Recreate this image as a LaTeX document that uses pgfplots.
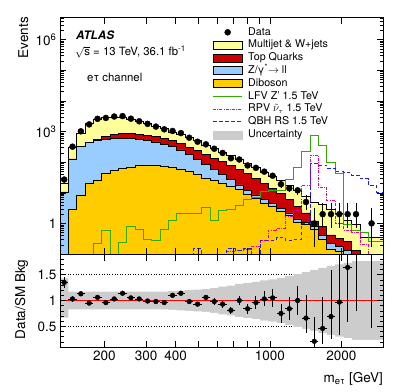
\documentclass[border=0pt]{standalone}
\usepackage{pgfplots}
\pgfplotsset{compat=1.18}
\usepackage{pgfplotstable}
\usepackage{fontspec}
\setmainfont{TeX Gyre Heros}

\definecolor{mjyellow}{RGB}{255,255,153}
\definecolor{topred}{RGB}{204,0,0}
\definecolor{zblue}{RGB}{153,204,255}
\definecolor{dborange}{RGB}{255,204,0}
\definecolor{lfvgreen}{RGB}{51,170,0}
\definecolor{qbhblue}{RGB}{30,30,255}
\definecolor{uncgray}{RGB}{204,204,204}

% background stack, cumulative, per bin (low edge); last row = upper edge
\pgfplotstableread{
edge     tot    top    zll    dib
130      20     10.6   10.4   0.01
140.97   310    128    125    2.9
152.87   900    330    320    8.3
165.77   1800   450    430    20
179.77   2450   560    500    26
194.94   2900   700    570    44
211.39   3000   800    600    52
229.23   2800   850    600    62
248.58   2500   860    590    70
269.56   2100   830    560    76
292.31   1800   770    520    80
316.98   1480   690    460    80
343.73   1230   600    390    75
372.74   950    500    320    68
404.2    780    410    250    60
438.31   640    310    180    50
475.3    500    240    125    40
515.42   360    175    85     30
558.92   280    135    58     25
606.09   215    103    40     20
657.24   165    78     27     16
712.71   122    58     18     12.5
772.86   93     42     12     9
838.09   68     30     8.5    6.5
908.83   48     20     6      4.6
985.54   34     14     4.4    3.5
1068.72  25     9.4    3.1    2.4
1158.92  17     6      2.2    1.8
1256.73  12     3.6    1.4    1.1
1362.8   7.6    2.2    1.1    0.9
1477.82  4.8    1.2    0.8    0.65
1602.55  4.3    0.8    0.4    0.3
1737.8   2.9    0.42   0.22   0.14
1884.47  2.06   0.32   0.18   0.12
2043.52  1.22   0.25   0.13   0.09
2216.0   0.9    0.13   0.07   0.05
2403.03  0.36   0.04   0.03   0.02
3000     0.36   0.04   0.03   0.02
}\bkg

% signals
\pgfplotstableread{
edge     lfv    rpv    qbh
130      0.001  0.001  0.001
140.97   0.001  0.001  0.001
152.87   0.001  0.001  0.001
165.77   0.001  0.001  0.001
179.77   0.22   0.001  0.001
194.94   0.59   0.001  0.001
211.39   0.001  0.001  0.001
229.23   0.24   0.001  0.001
248.58   0.8    0.001  0.001
269.56   0.64   0.001  0.001
292.31   0.29   0.001  0.001
316.98   0.28   0.001  0.001
343.73   0.62   0.001  0.001
372.74   1.25   0.001  0.001
404.2    2.1    0.001  0.001
438.31   2.1    0.001  0.001
475.3    2.1    0.001  0.15
515.42   3.3    0.001  0.05
558.92   1.25   0.001  0.05
606.09   2.7    0.05   0.05
657.24   2.8    0.12   0.15
712.71   3.8    0.13   0.13
772.86   6      0.14   0.15
838.09   7.3    0.18   0.05
908.83   11     0.28   0.28
985.54   12     0.6    0.28
1068.72  12     0.68   0.35
1158.92  27     1.7    0.28
1256.73  68     2.7    0.3
1362.8   220    17     1.0
1477.82  770    170    90
1602.55  360    15     80
1737.8   100    5.5    62
1884.47  42     1.0    48
2043.52  0.95   0.6    45
2216.0   0.6    0.5    37
2403.03  0.52   0.2    29
2605.9   0.25   0.1    17.6
2825.8   0.25   0.1    10.6
3064.4   0.25   0.1    10.6
}\sig

% data points: bin centre, events, errors, ratio to SM, errors, half bin width
\pgfplotstableread{
c       d     dp     dm     r     rp     rm     xe
135.4   27    5.2    5.2    1.35  0.1    0.1    5.4
146.8   320   17.9   17.9   1.03  0.058  0.058  5.9
159.2   1017  32     32     1.13  0.035  0.035  6.4
172.6   1710  41     41     0.95  0.023  0.023  6.9
187.2   2600  51     51     1.06  0.021  0.021  7.5
203.0   2780  53     53     0.96  0.018  0.018  8.1
220.1   3090  56     56     1.03  0.019  0.019  8.8
238.7   3190  56     56     1.14  0.02   0.02   9.5
258.9   2625  51     51     1.05  0.02   0.02   10.4
280.7   2160  46     46     1.03  0.022  0.022  11.2
304.4   1780  42     42     0.99  0.023  0.023  12.2
330.1   1450  38     38     0.98  0.026  0.026  13.2
357.9   1180  34     34     0.96  0.028  0.028  14.3
388.2   1045  32     32     1.10  0.034  0.034  15.5
420.9   890   30     30     1.14  0.038  0.038  16.8
456.4   627   25     25     0.98  0.039  0.039  18.3
494.9   465   21.6   21.6   0.93  0.043  0.043  19.8
536.7   382   19.5   19.5   1.06  0.054  0.054  21.5
582.0   274   16.6   16.6   0.98  0.06   0.06   23.3
631.1   200   14.1   14.1   0.93  0.066  0.066  25.2
684.4   134   11.6   11.6   0.81  0.07   0.07   27.4
742.2   122   11     11     1.00  0.09   0.09   29.7
804.8   78    8.8    8.8    0.84  0.095  0.095  32.2
872.7   65    8.1    8.1    0.96  0.12   0.12   34.9
946.4   49    7      7      1.03  0.146  0.146  37.9
1026.3  36    6      6      1.05  0.176  0.176  41.1
1112.9  19    4.4    4.4    0.75  0.18   0.18   44.5
1206.8  14    3.7    3.7    0.84  0.22   0.22   48.3
1308.7  12    3.5    3.5    1.00  0.29   0.29   52.3
1419.1  5     3.38   2.16   0.66  0.44   0.28   56.8
1538.9  1     2.3    0.83   0.21  0.48   0.17   61.6
1668.8  2     2.64   1.29   0.46  0.61   0.30   66.8
1809.6  2     2.64   1.29   0.69  0.91   0.44   72.4
1962.4  2     2.64   1.29   0.97  1.28   0.63   78.5
2128.0  2     2.64   1.29   1.64  2.16   1.06   85.1
2307.6  2     2.64   1.29   2.22  2.93   1.43   92.3
2685    1     2.3    0.83   2.78  6.4    2.31   290
}\dat

% ratio band
\pgfplotstableread{
edge     up     lo
130      1.43   0.67
140.97   1.17   0.83
152.87   1.17   0.83
165.77   1.17   0.83
179.77   1.17   0.83
194.94   1.17   0.83
211.39   1.17   0.83
229.23   1.17   0.83
248.58   1.17   0.83
269.56   1.17   0.83
292.31   1.17   0.83
316.98   1.17   0.83
343.73   1.17   0.83
372.74   1.18   0.82
404.2    1.19   0.81
438.31   1.20   0.80
475.3    1.21   0.79
515.42   1.22   0.78
558.92   1.24   0.76
606.09   1.27   0.73
657.24   1.29   0.71
712.71   1.32   0.68
772.86   1.34   0.66
838.09   1.36   0.64
908.83   1.39   0.61
985.54   1.41   0.59
1068.72  1.44   0.56
1158.92  1.47   0.53
1256.73  1.51   0.49
1362.8   1.55   0.45
1477.82  1.59   0.41
1602.55  1.63   0.37
1737.8   1.67   0.33
1884.47  1.70   0.30
2043.52  1.73   0.27
2216.0   1.76   0.24
2403.03  1.76   0.24
3000     1.76   0.24
}\unc

\pgfplotsset{
  boxleg/.style={legend image code/.code={\draw[##1] (0pt,-4pt) rectangle (29pt,4pt);}},
  fillleg/.style={legend image code/.code={\fill[uncgray] (0pt,-4pt) rectangle (29pt,4pt);}},
  lineleg/.style={legend image code/.code={\draw[##1] (0pt,0pt) -- (29pt,0pt);}},
  qbhleg/.style={legend image code/.code={\draw[qbhblue, line width=0.9pt, dash pattern=on 3.5pt off 2.5pt] (0pt,0pt) -- (29pt,0pt);}},
  dotleg/.style={legend image code/.code={\path[draw=none, fill=none] (0pt,-3pt) rectangle (29pt,3pt);
      \fill[black] (14.5pt,0pt) circle[radius=3pt];}},
}

\begin{document}
\begin{tikzpicture}
\path[use as bounding box] (0pt,0pt) rectangle (407pt,-391pt);

\begin{axis}[
  at={(60pt,-17pt)}, anchor=north west,
  width=323pt, height=237pt, scale only axis,
  xmode=log, ymode=log, log origin=infty,
  xmin=130, xmax=3000, ymin=0.1, ymax=5.5e6,
  tick align=inside, xtick pos=both, ytick pos=both,
  major tick length=6.5pt, minor tick length=3.5pt,
  tick style={black, line width=0.5pt},
  axis line style={line width=0.7pt},
  tick label style={font=\fontsize{13.5}{15}\selectfont},
  axis on top,
  xtick={200,300,400,500,600,700,800,900,1000,2000,3000},
  xticklabels={},
  ytick={0.1,1,10,100,1000,10000,100000,1000000},
  yticklabels={,1,,,10\textsuperscript{3},,,10\textsuperscript{6}},
  minor ytick={0.2,0.3,0.4,0.5,0.6,0.7,0.8,0.9,2,3,4,5,6,7,8,9,20,30,40,50,60,70,80,90,
    200,300,400,500,600,700,800,900,2000,3000,4000,5000,6000,7000,8000,9000,
    2e4,3e4,4e4,5e4,6e4,7e4,8e4,9e4,2e5,3e5,4e5,5e5,6e5,7e5,8e5,9e5,2e6,3e6,4e6,5e6},
  legend style={at={(0.4728,0.9565)}, anchor=north west, draw=none, fill=none,
    inner sep=0pt, outer sep=0pt, row sep=2.8pt, column sep=5.6pt,
    font=\fontsize{10.7}{12}\selectfont,
    nodes={inner sep=0pt, text height=7.7pt, text depth=2.3pt},
    cells={anchor=west}},
]
\addplot[const plot, fill=mjyellow, draw=black, line width=0.7pt, forget plot] table[x=edge, y=tot] {\bkg} \closedcycle;
\addplot[const plot, fill=topred, draw=black, line width=0.7pt, forget plot] table[x=edge, y=top] {\bkg} \closedcycle;
\addplot[const plot, fill=zblue, draw=black, line width=0.7pt, forget plot] table[x=edge, y=zll] {\bkg} \closedcycle;
\addplot[const plot, fill=dborange, draw=black, line width=0.7pt, forget plot] table[x=edge, y=dib] {\bkg} \closedcycle;

\addplot[const plot, lfvgreen, line width=0.9pt, forget plot] table[x=edge, y=lfv] {\sig};
\addplot[const plot, magenta, line width=0.9pt, dash pattern=on 3pt off 1.2pt on 0.8pt off 1.2pt, forget plot] table[x=edge, y=rpv] {\sig};
\addplot[const plot, qbhblue, line width=0.9pt, dash pattern=on 3.5pt off 2.5pt, forget plot] table[x=edge, y=qbh] {\sig};

\addplot[only marks, mark=*, mark size=3pt, black, forget plot,
  error bars/.cd, y dir=both, y explicit, error mark=none,
  error bar style={line width=0.9pt, black}]
  table[x=c, y=d, y error plus=dp, y error minus=dm] {\dat};

\addlegendimage{dotleg}
\addlegendentry{Data}
\addlegendimage{boxleg, fill=mjyellow, draw=black, line width=0.7pt}
\addlegendentry{Multijet \& W+jets}
\addlegendimage{boxleg, fill=topred, draw=black, line width=0.7pt}
\addlegendentry{Top Quarks}
\addlegendimage{boxleg, fill=zblue, draw=black, line width=0.7pt}
\addlegendentry{Z/γ\textsuperscript{*}$\rightarrow$ ll}
\addlegendimage{boxleg, fill=dborange, draw=black, line width=0.7pt}
\addlegendentry{Diboson}
\addlegendimage{lineleg, lfvgreen, line width=0.9pt}
\addlegendentry{LFV Z' 1.5 TeV}
\addlegendimage{lineleg, magenta, line width=0.9pt, dash pattern=on 3pt off 1.2pt on 0.8pt off 1.2pt}
\addlegendentry{RPV $\tilde{\nu}_{\tau}$ 1.5 TeV}
\addlegendimage{qbhleg}
\addlegendentry{QBH RS 1.5 TeV}
\addlegendimage{fillleg}
\addlegendentry{Uncertainty}
\end{axis}

\begin{axis}[
  at={(60pt,-254pt)}, anchor=north west,
  width=323pt, height=93pt, scale only axis,
  xmode=log, xmin=130, xmax=3000, ymin=0.1, ymax=1.9,
  tick align=inside, xtick pos=both, ytick pos=both,
  major tick length=6.5pt, minor tick length=3.5pt,
  tick style={black, line width=0.5pt},
  axis line style={line width=0.7pt},
  tick label style={font=\fontsize{13.5}{15}\selectfont},
  axis on top,
  xtick={200,300,400,500,600,700,800,900,1000,2000,3000},
  xticklabels={200,300,400,,,,,,1000,2000,},
  ytick={0.5,1,1.5}, yticklabels={0.5,1,1.5},
  minor ytick={0.1,0.2,0.3,0.4,0.6,0.7,0.8,0.9,1.1,1.2,1.3,1.4,1.6,1.7,1.8,1.9},
]
\addplot[const plot, fill=uncgray, draw=none, forget plot] table[x=edge, y=up] {\unc} \closedcycle;
\addplot[const plot, fill=white, draw=none, forget plot] table[x=edge, y=lo] {\unc} \closedcycle;
\addplot[black, dotted, line width=0.6pt, forget plot] coordinates {(130,0.5) (1256.73,0.5)};
\addplot[black, dotted, line width=0.6pt, forget plot] coordinates {(130,1.5) (1256.73,1.5)};
\addplot[red, line width=1pt, forget plot] coordinates {(130,1) (3000,1)};
\addplot[only marks, mark=*, mark size=2.4pt, black, forget plot,
  error bars/.cd, x dir=both, x explicit, y dir=both, y explicit, error mark=none,
  error bar style={line width=0.9pt, black}]
  table[x=c, y=r, x error=xe, y error plus=rp, y error minus=rm] {\dat};
\end{axis}

\node[rotate=90, anchor=base east, inner sep=0pt, font=\fontsize{13.5}{15}\selectfont] at (28pt,-17pt) {Events};
\node[rotate=90, anchor=base, inner sep=0pt, font=\fontsize{13.5}{15}\selectfont] at (25pt,-299.5pt) {Data/SM Bkg};
\node[anchor=base east, inner sep=0pt, font=\fontsize{13.5}{15}\selectfont] at (383pt,-382pt) {m\textsubscript{eτ} [GeV]};
\node[anchor=base west, inner sep=0pt, font=\bfseries\itshape\fontsize{11.7}{13}\selectfont] at (76pt,-39pt) {ATLAS};
\node[anchor=base west, inner sep=0pt, font=\fontsize{11.4}{13}\selectfont] at (75pt,-55.5pt) {$\sqrt{\mathrm{s}}$ = 13 TeV, 36.1 fb\textsuperscript{-1}};
\node[anchor=base west, inner sep=0pt, font=\fontsize{11.4}{13}\selectfont] at (87pt,-81pt) {eτ channel};
\end{tikzpicture}
\end{document}
